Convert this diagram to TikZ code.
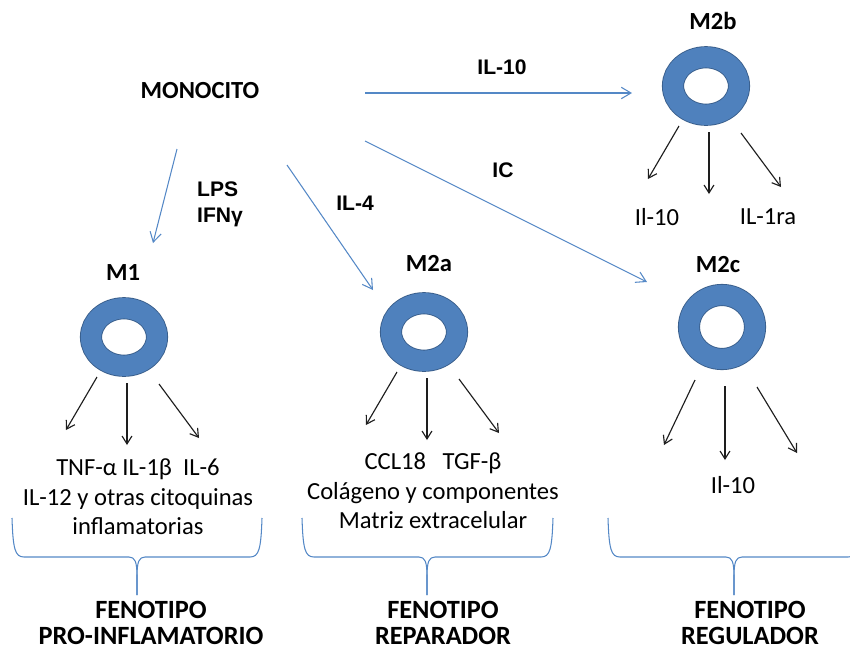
\documentclass[tikz,border=0pt]{standalone}
\usepackage{fontspec}
\setmainfont{Carlito}
\newfontfamily\arialfont{Liberation Sans}
\usetikzlibrary{arrows.meta,calc,shapes.geometric}

\begin{document}
\begin{tikzpicture}[x=0.02cm, y=-0.02cm,
  ring/.style={ellipse, draw=ringedge, line width=0.5pt, double=ringblue,
    double distance=11.6pt, minimum width=1.32cm, minimum height=1.15cm, inner sep=0pt},
  cell/.style={font=\bfseries\fontsize{14}{15}\selectfont},
  signal/.style={font=\arialfont\bfseries\fontsize{12}{14.7}\selectfont, align=left},
  product/.style={font=\fontsize{14}{16.7}\selectfont, align=center},
  phenotype/.style={font=\bfseries\fontsize{15}{14.6}\selectfont, align=center, inner sep=1pt},
  flow/.style={draw=flowblue, line width=0.6pt, -{Straight Barb[length=5.5pt,width=6.5pt]}},
  emit/.style={draw=emitgray, line width=0.65pt, -{Straight Barb[length=4.5pt,width=5.6pt]}},
  brace/.style={draw=flowblue, line width=0.6pt}]
% Monocito y sus cuatro destinos de macrofago; cada anillo es una celula,
% las flechas negras son lo que secreta, las llaves agrupan el fenotipo.
\definecolor{ringblue}{RGB}{79,129,189}
\definecolor{ringedge}{RGB}{56,93,138}
\definecolor{flowblue}{RGB}{84,136,198}
\definecolor{emitgray}{RGB}{30,30,30}
\clip (0,0) rectangle (850,650);

\node[cell] (mono) at (200,91) {MONOCITO};
\node[ring] (m1) at (124,337) {};
\node[ring] (m2a) at (424,332) {};
\node[ring] (m2b) at (706,86) {};
\node[ring, minimum height=1.28cm] (m2c) at (722,327) {};
\node[cell] (m1lab) at (123,273) {M1};
\node[cell] (m2alab) at (429,264) {M2a};
\node[cell] (m2blab) at (713,21) {M2b};
\node[cell] (m2clab) at (718,265) {M2c};

% estimulos
\draw[flow] ($(mono)+(165,2)$) -- ($(m2b)+(-74,7)$);
\draw[flow] ($(mono)+(165,50)$) -- ($(m2c)+(-75,-45)$);
\draw[flow] ($(mono)+(-23,58)$) -- ($(m1)+(29,-94)$);
\draw[flow] ($(mono)+(87,74)$) -- ($(m2a)+(-51,-42)$);
\node[signal] (il10) at (502,67) {IL-10};
\node[signal] (ic) at (503,170) {IC};
\node[signal] (il4) at (355,203) {IL-4};
\node[signal, anchor=west] (lps) at (191,204) {LPS\\IFNγ};

% secrecion
\foreach \c/\u/\v in {m1/0/0, m2a/0/0, m2b/0/0, m2c/13/25} {
  \draw[emit] ($(\c)+(-27,40+\u)$) -- ($(\c)+(-58,93+\v)$);
  \draw[emit] ($(\c)+(3,46+\u)$) -- ($(\c)+(3,108+\v)$);
  \draw[emit] ($(\c)+(35,47+\u)$) -- ($(\c)+(75,101+\v)$);
}
\node[product] (m1out) at (138,497) {TNF-α IL-1β\ \ IL-6\\IL-12 y otras citoquinas\\inflamatorias};
\node[product] (m2aout) at (433,491) {CCL18\ \ \ TGF-β\\Colágeno y componentes\\Matriz extracelular};
\node[product] (m2bout1) at (657,217) {Il-10};
\node[product] (m2bout2) at (768,217) {IL-1ra};
\node[product] (m2cout) at (733,485) {Il-10};

% llaves
\foreach \l/\c/\r in {12/137/262, 302/427/553, 608/734/860} {
  \draw[brace] (\l,518) .. controls (\l+1,549) and (\l+3,557) .. (\l+12,557)
    -- (\c-8,557) .. controls (\c-2,557) and (\c,562) .. (\c,576) -- (\c,595);
  \draw[brace] (\c,595) -- (\c,576) .. controls (\c,562) and (\c+2,557) .. (\c+8,557)
    -- (\r-12,557) .. controls (\r-3,557) and (\r-1,549) .. (\r,518);
}
\node[phenotype] (fen1) at (151,623) {FENOTIPO\\PRO-INFLAMATORIO};
\node[phenotype] (fen2) at (443,623) {FENOTIPO\\REPARADOR};
\node[phenotype] (fen3) at (750,623) {FENOTIPO\\REGULADOR};
\end{tikzpicture}
\end{document}
